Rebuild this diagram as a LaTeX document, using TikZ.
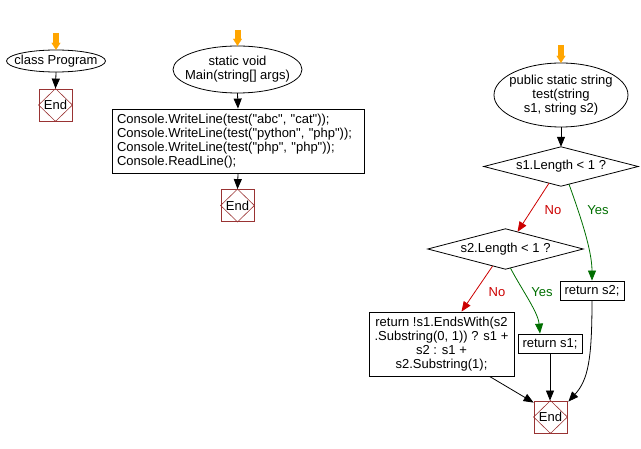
\documentclass[tikz,border=0pt]{standalone}
\usepackage{fontspec}
\setmainfont{Liberation Sans}[Ligatures=TeXOff]
\usetikzlibrary{arrows.meta,calc}
\definecolor{endred}{RGB}{153,51,51}
\definecolor{startor}{RGB}{255,165,0}
\definecolor{nored}{RGB}{204,0,0}
\definecolor{yesgreen}{RGB}{0,110,0}
\tikzset{
  base/.style={font=\fontsize{13}{14}\selectfont, inner sep=0pt, align=center},
  shapebox/.style={base, minimum width=#1},
  procbox/.style={base, draw, line width=0.8pt},
  endbox/.style={base, draw=endred, line width=0.8pt, minimum width=33, minimum height=32},
  flow/.style={line width=0.8pt, -{Triangle[length=10,width=8]}},
  noflow/.style={flow, draw=nored},
  yesflow/.style={flow, draw=yesgreen},
  startarr/.style={draw=startor, line width=6pt, -{Triangle[length=7,width=9,line width=0.1pt]}},
  nolab/.style={base, text=nored},
  yeslab/.style={base, text=yesgreen},
}
\begin{document}
\begin{tikzpicture}[x=1pt,y=-1pt]
\useasboundingbox (0,0) rectangle (641,449);
% ---- column 1
\node[shapebox=99, minimum height=22] (cls) at (56,61) {class Program};
\draw[line width=0.8pt] (cls.center) ellipse [x radius=49.5, y radius=11];
\coordinate (s1) at (56,33);
\node[endbox] (endA) at (55.5,105) {End};
% ---- column 2
\node[shapebox=129, minimum height=47] (main) at (237.5,69.5) {static void\\Main(string[] args)};
\draw[line width=0.8pt] (main.center) ellipse [x radius=64.5, y radius=23.5];
\coordinate (s2) at (237.5,30);
\node[procbox, minimum width=252, minimum height=64, align=left, text width=242] (cons) at (238,141)
  {Console.WriteLine(test("abc", "cat"));\\Console.WriteLine(test("python", "php"));\\Console.WriteLine(test("php", "php"));\\Console.ReadLine();};
\node[endbox] (endB) at (237.5,205.5) {End};
% ---- column 3
\node[shapebox=134, minimum height=64] (test) at (561,95) {public static string\\test(string\\s1, string s2)};
\draw[line width=0.8pt] (test.center) ellipse [x radius=67, y radius=32];
\coordinate (s3) at (561,45);
\node[shapebox=154, minimum height=39] (d1) at (561,166.5) {s1.Length < 1 ?};
\node[shapebox=155, minimum height=40] (d2) at (505.5,249) {s2.Length < 1 ?};
\node[procbox, minimum width=64, minimum height=19] (rs2) at (592,290.5) {return s2;};
\node[procbox, minimum width=145, minimum height=64] (big) at (441.5,344)
  {return !s1.EndsWith(s2\\.Substring(0, 1)) ? s1 +\\s2 : s1 +\\s2.Substring(1);};
\node[procbox, minimum width=64, minimum height=19] (rs1) at (550,343.5) {return s1;};
\node[endbox] (endC) at (550.5,417) {End};
% diamonds
\foreach \d in {d1,d2}
  \draw[line width=0.8pt] (\d.north) -- (\d.east) -- (\d.south) -- (\d.west) -- cycle;
\foreach \e in {endA,endB,endC}
  \draw[endred, line width=0.6pt] (\e.north) -- (\e.east) -- (\e.south) -- (\e.west) -- cycle;
% start arrows
\draw[startarr] (s1) -- (cls.north);
\draw[startarr] (s2) -- (main.north);
\draw[startarr] (s3) -- (test.north);
% black flows
\draw[flow] (cls.south) -- (endA.north);
\draw[flow] (main.south) -- (cons.north);
\draw[flow] (cons.south) -- (endB.north);
\draw[flow] (test.south) -- (d1.north);
% decisions
\draw[noflow] ($(d1.south)+(-12,-3)$) -- ($(d2.north)+(12,3)$);
\node[nolab] (no1) at (553,210) {No};
\draw[yesflow] ($(d1.south)+(8,-2)$) .. controls (580,215) and (592,250) .. (rs2.north);
\node[yeslab] (yes1) at (598,210) {Yes};
\draw[noflow] ($(d2.south)+(-13,-3)$) -- ($(big.north)+(20,0)$);
\node[nolab] (no2) at (497,292) {No};
\draw[yesflow] ($(d2.south)+(5,-1)$) .. controls (522,290) and (538,312) .. ($(rs1.north)+(-10,0)$);
\node[yeslab] (yes2) at (542,292) {Yes};
% to end
\draw[flow] ($(big.south)+(48,0)$) -- ($(endC.north west)+(0,2)$);
\draw[flow] (rs1.south) -- (rs1.south |- endC.north);
\draw[flow] (rs2.south) .. controls (592,360) and (588,380) .. ($(endC.north east)+(1,1)$);
\end{tikzpicture}
\end{document}
